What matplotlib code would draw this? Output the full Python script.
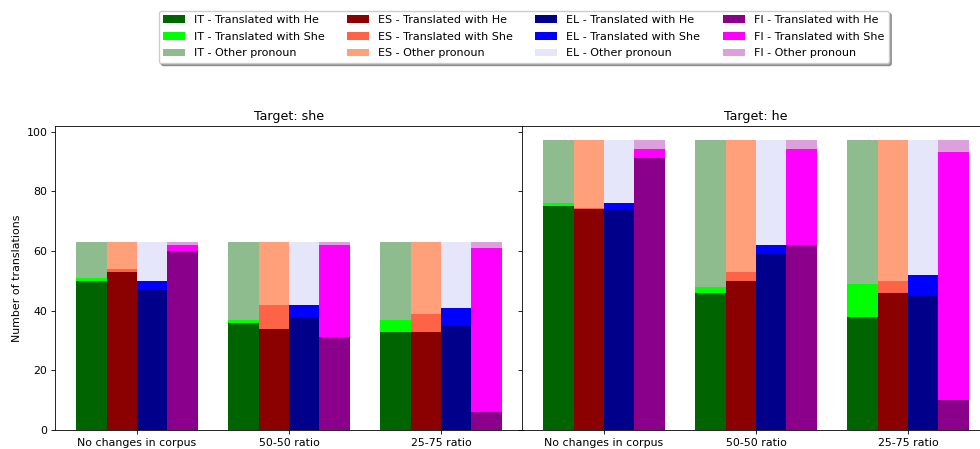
import matplotlib
matplotlib.use("Agg")
import matplotlib.pyplot as plt
import numpy as np

categories = ['No changes in corpus', '50-50 ratio', '25-75 ratio']
languages = ['IT', 'ES', 'EL', 'FI']

# Target: she
she_he = {'IT': [50, 36, 33], 'ES': [53, 34, 33], 'EL': [47, 38, 35], 'FI': [60, 31, 6]}
she_she = {'IT': [1, 1, 4], 'ES': [1, 8, 6], 'EL': [3, 4, 6], 'FI': [2, 31, 55]}
she_other = {'IT': [12, 26, 26], 'ES': [9, 21, 24], 'EL': [13, 21, 22], 'FI': [1, 1, 2]}

# Target: he
he_he = {'IT': [75, 46, 38], 'ES': [74, 50, 46], 'EL': [74, 59, 45], 'FI': [91, 62, 10]}
he_she = {'IT': [1, 2, 11], 'ES': [0.3, 3, 4], 'EL': [2, 3, 7], 'FI': [3, 32, 83]}
he_other = {'IT': [21, 49, 48], 'ES': [22.7, 44, 47], 'EL': [21, 35, 45], 'FI': [3, 3, 4]}

colors = {
    'IT': ['darkgreen', 'lime', 'darkseagreen'],
    'ES': ['darkred', 'tomato', 'lightsalmon'],
    'EL': ['darkblue', 'blue', 'lavender'],
    'FI': ['darkmagenta', 'magenta', 'plum'],
}

plt.rcParams['font.size'] = 7.9
plt.rcParams['axes.linewidth'] = 0.6
plt.rcParams['xtick.major.size'] = 2.7
plt.rcParams['ytick.major.size'] = 2.7
plt.rcParams['xtick.major.width'] = 0.6
plt.rcParams['ytick.major.width'] = 0.6
plt.rcParams['xtick.major.pad'] = 2.7
plt.rcParams['ytick.major.pad'] = 2.7

fig = plt.figure(figsize=(9.8, 4.49), dpi=100)
ax1 = fig.add_axes([55 / 980, 19 / 449, 468 / 980, 304 / 449])
ax2 = fig.add_axes([522 / 980, 19 / 449, 468 / 980, 304 / 449], sharey=ax1)

x = np.arange(len(categories))
width = 0.2


def draw(ax, he, she, other, title):
    for i, lang in enumerate(languages):
        pos = x + (i - 1.5) * width
        h = np.array(he[lang])
        s = np.array(she[lang])
        o = np.array(other[lang])
        c = colors[lang]
        ax.bar(pos, h, width, color=c[0], label=lang + ' - Translated with He')
        ax.bar(pos, s, width, bottom=h, color=c[1], label=lang + ' - Translated with She')
        ax.bar(pos, o, width, bottom=h + s, color=c[2], label=lang + ' - Other pronoun')
    ax.set_xticks(x)
    ax.set_xticklabels(categories)
    ax.set_title(title, fontsize=9.1, pad=4.5)


draw(ax1, she_he, she_she, she_other, 'Target: she')
draw(ax2, he_he, he_she, he_other, 'Target: he')
ax1.set_ylabel('Number of translations', labelpad=3)
ax2.tick_params(labelleft=False)

handles, labels = ax1.get_legend_handles_labels()
fig.legend(handles, labels, loc='upper center', ncol=4, shadow=True,
           fontsize=8.0, labelspacing=0.6,
           bbox_to_anchor=(523.5 / 980, 1 - 5 / 449))

fig.savefig('out.png', dpi=100)
